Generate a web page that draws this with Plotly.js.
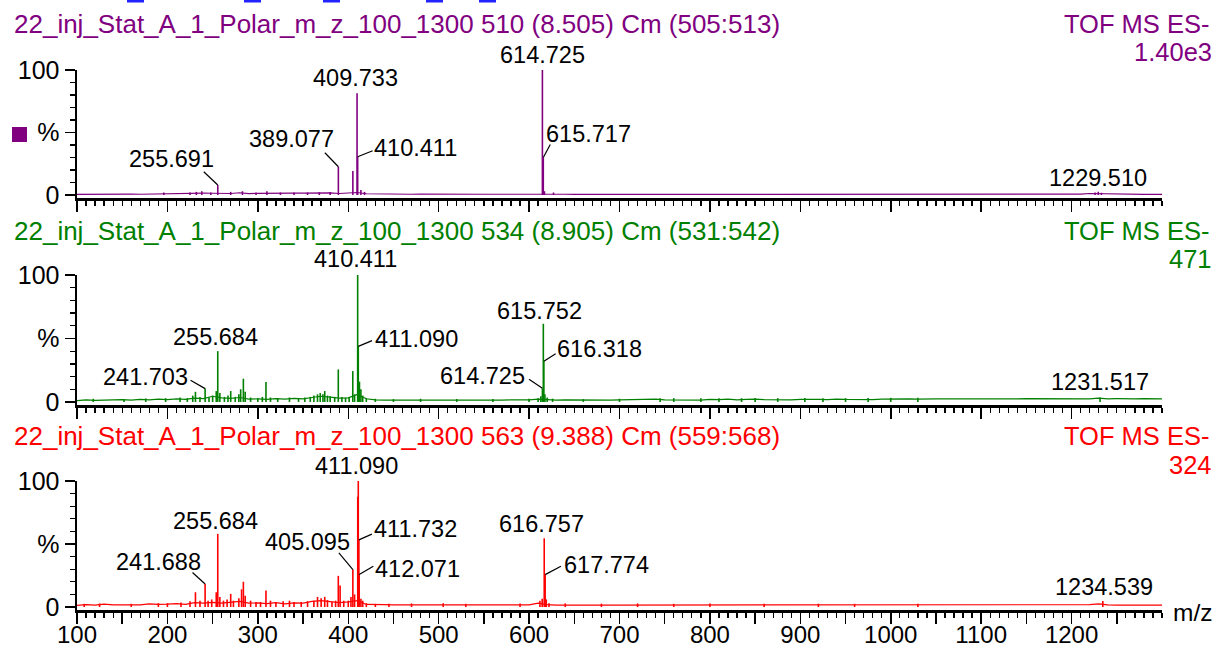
<!DOCTYPE html>
<html><head><meta charset="utf-8">
<script src="https://cdn.plot.ly/plotly-3.0.1.min.js"></script>
<style>html,body{margin:0;padding:0;background:#fff;}#chart{width:1218px;height:648px;}</style>
</head><body><div id="chart"></div>
<script>
// ---------------- data ----------------
const panelTitles = [
  '22_inj_Stat_A_1_Polar_m_z_100_1300 510 (8.505) Cm (505:513)',
  '22_inj_Stat_A_1_Polar_m_z_100_1300 534 (8.905) Cm (531:542)',
  '22_inj_Stat_A_1_Polar_m_z_100_1300 563 (9.388) Cm (559:568)'
];
const panelModes = ['TOF MS ES-', 'TOF MS ES-', 'TOF MS ES-'];
const panelBasePeak = ['1.40e3', '471', '324'];
const panelColors = ['#800080', '#008000', '#ff0000'];

const xTickVals = [100,150,200,250,300,350,400,450,500,550,600,650,700,750,800,850,900,950,1000,1050,1100,1150,1200,1250];
const xTickText = ['100','','200','','300','','400','','500','','600','','700','','800','','900','','1000','','1100','','1200',''];
const yTickVals = [0, 50, 100];
const yTickText = ['0', '%', '100'];

// baseline noise profile (relative intensity %, sampled along m/z)
const noiseMz = [100,110,120,130,140,150,160,170,180,190,200,210,220,230,240,250,260,270,280,290,
  300,310,320,330,340,350,360,370,380,390,400,410,420,430,440,450,460,470,480,490,
  500,510,520,530,540,550,560,570,580,590,600,610,620,630,640,650,660,670,680,690,
  700,710,720,730,740,750,760,770,780,790,800,810,820,830,840,850,860,870,880,890,
  900,910,920,930,940,950,960,970,980,990,1000,1010,1020,1030,1040,1050,1060,1070,1080,1090,
  1100,1110,1120,1130,1140,1150,1160,1170,1180,1190,1200,1210,1220,1230,1240,1250,1260,1270,1280,1290,1300];
const noise1 = [0.5,0.6,0.5,0.7,0.6,0.6,0.7,0.6,0.8,0.9, 1.0,0.9,1.2,1.6,1.5,1.4,1.3,1.2,1.8,1.1,
  1.3,1.5,1.4,1.6,1.5,1.5,1.6,1.4,1.7,1.2, 1.5,2.0,1.0,0.8,0.8,0.7,0.7,0.6,0.7,0.6,
  0.6,0.6,0.7,0.6,0.6,0.6,0.6,0.6,0.6,0.6, 0.7,1.2,0.8,0.6,0.6,0.5,0.6,0.5,0.5,0.6,
  0.5,0.5,0.6,0.5,0.5,0.6,0.5,0.5,0.5,0.6, 0.5,0.5,0.6,0.5,0.5,0.5,0.6,0.5,0.5,0.5,
  0.5,0.6,0.5,0.5,0.5,0.6,0.5,0.5,0.5,0.5, 0.6,0.5,0.5,0.5,0.6,0.5,0.5,0.5,0.6,0.5,
  0.5,0.5,0.6,0.5,0.5,0.5,0.6,0.5,0.5,0.6, 0.6,0.7,1.2,1.0,0.7,0.6,0.5,0.5,0.5,0.5, 0.5];
const noise2 = [1.0,1.6,1.2,1.5,1.3,1.8,1.4,2.0,1.6,2.2, 1.8,2.4,2.0,3.0,2.6,4.5,3.2,2.8,3.5,2.2,
  2.4,2.0,2.6,2.2,2.8,2.4,3.5,4.5,3.8,3.0, 3.2,6.0,2.5,1.6,1.5,1.4,1.6,1.3,1.5,1.4,
  1.5,1.3,1.6,1.4,1.5,1.3,1.5,1.4,1.6,1.5, 1.6,2.2,1.8,1.4,1.6,1.5,1.5,1.4,1.6,1.5,
  1.6,1.8,1.5,2.0,2.2,1.6,1.5,1.8,1.6,1.5, 2.0,1.8,2.2,1.6,2.0,2.2,1.8,1.6,1.5,1.6,
  2.0,2.2,2.0,1.8,2.2,2.0,1.8,2.0,1.9,2.2, 2.4,2.2,2.5,2.3,2.6,2.4,2.5,2.3,2.6,2.4,
  2.5,2.4,2.6,2.5,2.4,2.6,2.5,2.4,2.6,2.5, 2.6,2.5,2.4,3.0,2.5,2.6,2.4,2.5,2.6,2.4, 2.4];
const noise3 = [1.2,1.8,1.5,2.2,1.6,1.8,2.0,1.6,2.4,2.0, 2.2,2.6,2.0,3.5,3.0,3.6,3.0,4.0,4.5,3.0,
  3.2,2.6,3.4,2.5,3.2,3.0,4.5,5.0,4.0,3.5, 4.0,5.0,2.0,1.6,1.8,1.6,1.6,1.5,1.6,1.5,
  1.8,2.0,1.6,1.5,1.6,1.5,1.4,1.5,1.6,1.8, 1.6,3.0,1.8,1.5,1.6,1.4,1.5,1.4,1.5,1.5,
  1.5,1.6,1.4,1.5,1.6,1.5,1.8,1.6,1.5,1.6, 1.5,1.6,1.8,1.6,1.5,1.6,1.8,1.6,1.5,1.6,
  1.6,1.5,1.8,1.6,1.5,1.6,1.7,1.5,1.6,1.8, 1.6,1.5,1.6,1.8,1.6,1.5,1.6,1.7,1.5,1.6,
  1.5,1.6,1.7,1.5,1.6,1.5,1.6,1.5,1.7,1.6, 1.6,1.5,1.8,2.5,1.6,1.5,1.6,1.5,1.6,1.5, 1.5];

// centroid peaks (m/z, relative intensity %)
const peaks1Mz = [196,225,232,238,248,255.691,270,283,298,310, 325,340,355,368,380,389.077,405.1,409.733,410.411,414,
  418,614.725,615.717,617,627,1226,1229.510,1233];
const peaks1Int = [2,2,2.5,3,2,8,2.5,3,2,3, 2,2,2,2.2,2.5,22.6,19.2,81.4,30.6,4, 2.5,100,30,3,2,2,2.6,1.8];

const peaks2Mz = [118,152,176,198,214,222,228,231,236,241.703, 246,250,254,255.684,258,263,267,270,275,279,
  281,284,286,292,300,305,309,314,322,335, 345,352,358,362,366,369,372,374,377,380,
  385,389,393,397,401,405,407,410.411,411.090,412.4, 414,416,420,430,450,480,520,560,600,610,
  613,614.725,615.752,616.318,617.5,620,626,660,700,745, 760,790,810,835,850,875,905,925,950,975,
  1000,1030,1231.517];
const peaks2Int = [2.5,2.2,2.8,3,3.5,3,5,8,4,10.5, 3.5,5,8.6,40,7,4,5,8.6,4,6,
  10,18.3,8,3.5,3,4,15.7,3.5,3,3.5, 3,3.5,4,5,6,7,6,8.6,5,4.5,
  4,25.6,4,3.5,4,24.3,6,100,43.8,16, 10,5,3,2.5,2.2,2.5,2.3,2.4,2.6,3,
  4.5,10.7,61.6,32,6,3.5,2.6,2.2,2.5,3, 3,3,3,3,3.2,3,3.2,3,3,3.2, 3.2,3.4,3.6];

const peaks3Mz = [108,125,160,190,200,215,225,231,236,241.688, 245,249,254,255.684,258,262,266,270,273,279,
  282,284,286,292,298,303,309,314,320,328, 335,340,348,355,362,366,370,374,377,382,
  386,389,391,395,400,403,405.095,407,410.5,411.090, 411.732,412.071,414,416,420,430,445,470,505,530,
  590,612,614.5,616.757,617.774,619,622,640,680,720, 760,800,860,920,960,1030,1234.539];
const peaks3Int = [2.5,2.8,2.5,3,3,3.5,4.5,11.7,5,18.2, 5,6,11.7,58,8,5,6,10.4,5,7,
  14,20,9,5,4,4,13,5,4,4.5, 5,4,4,4.5,5,8,7,8,5.5,4,
  5,24.7,17,5,5,8,29.7,10,87.5,100, 53.3,25.7,6.5,5,3,2.5,2.6,2.8,3,2.5,
  2.8,5,6.5,54.5,25.7,6,3,2.8,2.6,2.8, 2.5,2.8,2.6,2.6,2.5,2.6,4.7];

// labelled peaks (m/z values shown as text)
const labels1 = [614.725, 409.733, 410.411, 389.077, 615.717, 255.691, 1229.510];
const labels2 = [410.411, 411.090, 255.684, 241.703, 614.725, 615.752, 616.318, 1231.517];
const labels3 = [411.090, 411.732, 412.071, 405.095, 255.684, 241.688, 616.757, 617.774, 1234.539];

// ---------------- styling / placement (pixels) ----------------
const W = 1218, H = 648, ML = 77, MR = 56;
const PW = W - ML - MR;
const px2x = p => (p - ML) / PW;
const px2y = p => 1 - p / H;
const FONT = 'Liberation Sans, Arial, sans-serif';

// y domains (pixel top/bottom of each panel)
const panelPx = [[70, 198], [275, 405], [481, 610]];
const headerY = [[24, 52], [231, 259], [436, 465]];

// label placement: [xanchor, yanchor, xshift, yshift, leader dx, leader dy]
const labelStyle = [
  [['center','bottom',0,0],['center','bottom',-1.5,0],['left','middle',14.5,9,15,6],['right','bottom',-2,12.5,-13.5,14],
   ['left','middle',1,24,7,13],['right','bottom',-1.5,10.7,-14,13.3],['center','bottom',0,-1]],
  [['center','bottom',-2,1],['left','middle',15,7.7,13.8,5.7],['center','bottom',-2,-1],['right','middle',-15.5,11.3,-14.6,8.3],
   ['right','middle',-15.5,12,-13.4,9],['center','bottom',-3.5,-2],['left','middle',11.5,12.7,11.8,7.7],['center','bottom',0,0]],
  [['center','bottom',-1.5,0],['left','middle',13,11,13,5.7],['left','middle',14,6,14.2,8.3],['right','bottom',-0.5,12.3,-14,16.7],
   ['center','bottom',-2,-2],['right','bottom',-2,7.3,-12.6,11.6],['center','bottom',-3,-1],['left','middle',16.5,10,15.8,8.3],['center','bottom',1,-1]]
];

const noiseSets = [noise1, noise2, noise3];
const peakMzSets = [peaks1Mz, peaks2Mz, peaks3Mz];
const peakIntSets = [peaks1Int, peaks2Int, peaks3Int];
const labelSets = [labels1, labels2, labels3];

const traces = [];
const annotations = [];
const shapes = [];
const layout = {
  width: W, height: H, autosize: false,
  margin: {l: ML, r: MR, t: 0, b: 0, pad: 0},
  paper_bgcolor: '#fff', plot_bgcolor: '#fff',
  showlegend: false, hovermode: false,
  font: {family: FONT, size: 24, color: '#000'}
};

for (let i = 0; i < 3; i++) {
  const n = i + 1, sfx = i === 0 ? '' : String(n);
  const xa = 'x' + sfx, ya = 'y' + sfx;
  const col = panelColors[i];
  // noise baseline
  traces.push({type: 'scatter', mode: 'lines', x: noiseMz, y: noiseSets[i], xaxis: xa, yaxis: ya,
    line: {color: col, width: 1.2}, hoverinfo: 'skip'});
  // sticks
  const sx = [], sy = [];
  peakMzSets[i].forEach((m, k) => { sx.push(m, m, null); sy.push(0, peakIntSets[i][k], null); });
  traces.push({type: 'scatter', mode: 'lines', x: sx, y: sy, xaxis: xa, yaxis: ya, connectgaps: false,
    line: {color: col, width: 1.6}, hoverinfo: 'skip'});

  const [pt, pb] = panelPx[i];
  layout['xaxis' + sfx] = {
    domain: [0, 1], anchor: ya, range: [100, 1300], showgrid: false, zeroline: false,
    showline: true, linecolor: '#000', linewidth: 3, mirror: false,
    ticks: 'outside', tickmode: 'array', tickvals: xTickVals, ticktext: xTickText,
    ticklen: 11, tickwidth: 1.5, tickcolor: '#000', ticklabelstandoff: -10,
    minor: {dtick: 10, tick0: 100, ticks: 'outside', ticklen: 5, tickwidth: 1.3, tickcolor: '#000', showgrid: false},
    showticklabels: i === 2, tickfont: {family: FONT, size: 24, color: '#000'}, fixedrange: true
  };
  layout['yaxis' + sfx] = {
    domain: [px2y(pb), px2y(pt)], anchor: xa, range: [-2.4, 100], showgrid: false, zeroline: false,
    showline: true, linecolor: '#000', linewidth: 2.5,
    ticks: 'outside', tickmode: 'array', tickvals: yTickVals, ticktext: yTickText,
    ticklen: 10, tickwidth: 1.5, tickcolor: '#000',
    minor: {dtick: 10, tick0: 0, ticks: 'outside', ticklen: 5, tickwidth: 1.3, tickcolor: '#000', showgrid: false},
    tickfont: {family: FONT, size: 25, color: '#000'}, fixedrange: true
  };

  // headers
  annotations.push({xref: 'paper', yref: 'paper', x: px2x(12), y: px2y(headerY[i][0]), xanchor: 'left', yanchor: 'middle',
    text: panelTitles[i], showarrow: false, font: {family: FONT, size: 26, color: col}});
  annotations.push({xref: 'paper', yref: 'paper', x: px2x(1211), y: px2y(headerY[i][0]), xanchor: 'right', yanchor: 'middle',
    text: panelModes[i], showarrow: false, font: {family: FONT, size: 25.5, color: col}});
  annotations.push({xref: 'paper', yref: 'paper', x: px2x(1214), y: px2y(headerY[i][1]), xanchor: 'right', yanchor: 'middle',
    text: panelBasePeak[i], showarrow: false, font: {family: FONT, size: 25.5, color: col}});

  // peak labels
  labelSets[i].forEach((m, k) => {
    const idx = peakMzSets[i].indexOf(m);
    const inten = peakIntSets[i][idx];
    const st = labelStyle[i][k];
    annotations.push({xref: xa, yref: ya, x: m, y: inten, text: m.toFixed(3), showarrow: false,
      xanchor: st[0], yanchor: st[1], xshift: st[2], yshift: st[3],
      font: {family: FONT, size: 23.5, color: '#000'}});
    if (st.length > 4) {
      shapes.push({type: 'line', xref: xa, yref: ya, xsizemode: 'pixel', ysizemode: 'pixel',
        xanchor: m, yanchor: inten, x0: 0, y0: 0, x1: st[4], y1: st[5], line: {color: '#000', width: 1.2}});
    }
  });
}

// m/z axis title
annotations.push({xref: 'paper', yref: 'paper', x: px2x(1171), y: px2y(612), xanchor: 'left', yanchor: 'middle',
  text: 'm/z', showarrow: false, font: {family: FONT, size: 24.5, color: '#000'}});

// marker square in first panel
shapes.push({type: 'rect', xref: 'paper', yref: 'paper', x0: px2x(12), x1: px2x(27), y0: px2y(142), y1: px2y(127),
  fillcolor: '#800080', line: {width: 0}});
// clipped blue heading remnants at the top edge
[[127,144],[244,261],[323,340],[426,443],[479,496]].forEach(s => {
  shapes.push({type: 'rect', xref: 'paper', yref: 'paper', x0: px2x(s[0]), x1: px2x(s[1]), y0: px2y(2.5), y1: px2y(0),
    fillcolor: '#2222ff', line: {width: 0}});
});

layout.annotations = annotations;
layout.shapes = shapes;
Plotly.newPlot('chart', traces, layout, {staticPlot: true, displayModeBar: false});
</script>
</body></html>
